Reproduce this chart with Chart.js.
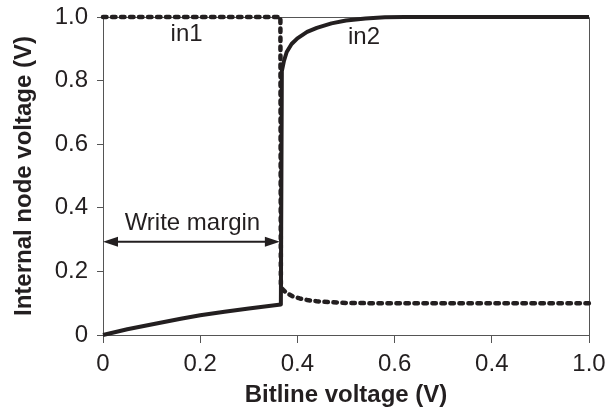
<!DOCTYPE html>
<html>
<head>
<meta charset="utf-8">
<script src="https://cdn.jsdelivr.net/npm/chart.js@4"></script>
<style>
html,body{margin:0;padding:0;background:#fff;}
#wrap{width:606px;height:412px;position:relative;}
</style>
</head>
<body>
<div id="wrap"><canvas id="c" width="606" height="412"></canvas></div>
<script>
// ---- data ----
const in1X = [0, 0.365, 0.366, 0.372, 0.38, 0.39, 0.405, 0.42, 0.44, 0.47, 0.5, 0.55, 1.0];
const in1Y = [1.0, 1.0, 0.15, 0.14, 0.13, 0.122, 0.115, 0.11, 0.106, 0.103, 0.101, 0.1, 0.1];

const in2X = [0, 0.05, 0.11, 0.16, 0.2, 0.25, 0.3, 0.366, 0.368, 0.372, 0.378, 0.388, 0.4, 0.42, 0.44, 0.47, 0.5, 0.54, 0.58, 0.62, 1.0];
const in2Y = [0, 0.018, 0.036, 0.051, 0.062, 0.073, 0.083, 0.096, 0.83, 0.86, 0.89, 0.915, 0.933, 0.953, 0.966, 0.98, 0.989, 0.995, 0.999, 1.0, 1.0];

const xTickLabels = ["0", "0.2", "0.4", "0.6", "0.4", "1.0"];
const yTickLabels = ["0", "0.2", "0.4", "0.6", "0.8", "1.0"];

const seriesLabels = ["in1", "in2"];
const labelPosX = [0.172, 0.537];
const labelPosY = [0.944, 0.936];

const marginText = "Write margin";
const marginTextPos = [0.184, 0.352];
const marginArrowX = [0, 0.364];
const marginArrowY = 0.293;

const xTitle = "Bitline voltage (V)";
const yTitle = "Internal node voltage (V)";

// ---- chart ----
const INK = '#231f20';
const AXIS = '#555555';
const FONT = "'Liberation Sans', Arial, sans-serif";

function pts(xs, ys){ return xs.map((x,i)=>({x:x, y:ys[i]})); }

const annotations = {
  id: 'annotations',
  beforeDatasetsDraw(chart){
    const {ctx, chartArea} = chart;
    ctx.save();
    ctx.strokeStyle = AXIS;
    ctx.lineWidth = 1;
    ctx.beginPath();
    ctx.moveTo(chartArea.left, chartArea.top + 0.5);
    ctx.lineTo(chartArea.right + 0.5, chartArea.top + 0.5);
    ctx.lineTo(chartArea.right + 0.5, chartArea.bottom);
    ctx.stroke();
    ctx.restore();
  },
  afterDatasetsDraw(chart){
    const {ctx, scales:{x, y}} = chart;
    ctx.save();
    ctx.fillStyle = INK;
    ctx.font = "24px " + FONT;
    ctx.textAlign = 'center';
    ctx.textBaseline = 'middle';
    seriesLabels.forEach((t,i)=>{
      ctx.fillText(t, x.getPixelForValue(labelPosX[i]), y.getPixelForValue(labelPosY[i]));
    });
    ctx.fillText(marginText, x.getPixelForValue(marginTextPos[0]), y.getPixelForValue(marginTextPos[1]));

    // double arrow
    const x0 = x.getPixelForValue(marginArrowX[0]);
    const x1 = x.getPixelForValue(marginArrowX[1]);
    const ay = y.getPixelForValue(marginArrowY);
    const hl = 15, hw = 5;
    ctx.strokeStyle = INK;
    ctx.lineWidth = 2;
    ctx.beginPath();
    ctx.moveTo(x0 + hl - 2, ay);
    ctx.lineTo(x1 - hl + 2, ay);
    ctx.stroke();
    ctx.beginPath();
    ctx.moveTo(x0, ay);
    ctx.lineTo(x0 + hl, ay - hw);
    ctx.lineTo(x0 + hl, ay + hw);
    ctx.closePath();
    ctx.fill();
    ctx.beginPath();
    ctx.moveTo(x1, ay);
    ctx.lineTo(x1 - hl, ay - hw);
    ctx.lineTo(x1 - hl, ay + hw);
    ctx.closePath();
    ctx.fill();
    ctx.restore();
  }
};

new Chart(document.getElementById('c'), {
  type: 'scatter',
  data: {
    datasets: [
      {
        label: seriesLabels[1],
        data: pts(in2X, in2Y),
        showLine: true,
        clip: false,
        borderColor: INK,
        backgroundColor: INK,
        borderWidth: 4,
        pointRadius: 0,
        tension: 0,
        borderCapStyle: 'butt',
        borderJoinStyle: 'round'
      },
      {
        label: seriesLabels[0],
        data: pts(in1X, in1Y),
        showLine: true,
        clip: false,
        borderColor: INK,
        backgroundColor: INK,
        borderWidth: 4.5,
        pointRadius: 0,
        tension: 0,
        borderDash: [3.5, 5.5],
        borderCapStyle: 'round',
        borderJoinStyle: 'round'
      }
    ]
  },
  options: {
    responsive: false,
    animation: false,
    events: [],
    layout: { padding: { left: 0, top: 17, right: 17, bottom: 0 } },
    plugins: { legend: { display: false }, tooltip: { enabled: false } },
    scales: {
      x: {
        type: 'linear', min: 0, max: 1,
        afterFit(s){ s.height = 77; s.paddingRight = 0; s.paddingLeft = 0; },
        ticks: {
          stepSize: 0.2, padding: 7, color: INK,
          font: { family: FONT, size: 24 },
          maxRotation: 0,
          callback: (v, i) => xTickLabels[i]
        },
        grid: { display: true, drawOnChartArea: false, drawTicks: true, tickLength: 8, color: AXIS, tickColor: AXIS },
        border: { display: true, color: AXIS, width: 1 },
        title: { display: true, text: xTitle, color: INK, font: { family: FONT, size: 24, weight: 'bold' }, padding: { top: 0, bottom: 2 } }
      },
      y: {
        type: 'linear', min: 0, max: 1,
        afterFit(s){ s.width = 103; s.paddingTop = 0; s.paddingBottom = 0; },
        ticks: {
          stepSize: 0.2, padding: 9, color: INK,
          font: { family: FONT, size: 24 },
          callback: (v, i) => yTickLabels[i]
        },
        grid: { display: true, drawOnChartArea: false, drawTicks: true, tickLength: 6, color: AXIS, tickColor: AXIS },
        border: { display: true, color: AXIS, width: 1 },
        title: { display: true, text: yTitle, color: INK, font: { family: FONT, size: 24, weight: 'bold' }, padding: { top: 10, bottom: 0 } }
      }
    }
  },
  plugins: [annotations]
});
</script>
</body>
</html>
